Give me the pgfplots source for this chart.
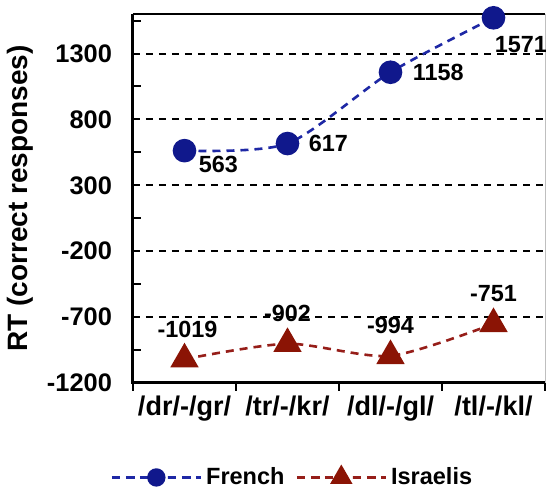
\documentclass[border=0pt]{standalone}
\usepackage{fontspec}
\setmainfont{Liberation Sans}
\usepackage{pgfplots}
\pgfplotsset{compat=1.18}

\definecolor{frline}{RGB}{30,40,165}
\definecolor{frmark}{RGB}{16,24,140}
\definecolor{isline}{RGB}{150,30,25}
\definecolor{ismark}{RGB}{139,20,5}

\newcommand{\fs}[1]{\bfseries\fontsize{#1}{#1}\selectfont}

\begin{document}
\begin{tikzpicture}
\begin{axis}[
    scale only axis, width=206pt, height=184.5pt,
    clip=false,
    xmin=0.5, xmax=4.5, ymin=-1200, ymax=1600,
    axis line style={draw=none},
    xtick={1,2,3,4},
    xticklabels={/dr/-/gr/,/tr/-/kr/,/dl/-/gl/,/tl/-/kl/},
    minor xtick={0.5,1.5,2.5,3.5,4.5},
    ytick={-1200,-700,...,1300},
    minor ytick={-950,-450,50,550,1050,1550},
    xtick pos=bottom, ytick pos=left,
    xtick align=outside, ytick align=inside,
    major tick length=0pt, minor tick length=4pt,
    minor tick style={black, line width=1pt},
    ymajorgrids,
    major grid style={black, line width=1pt, dash pattern=on 3.5pt off 3pt},
    /pgf/number format/assume math mode=true,
    /pgf/number format/1000 sep={},
    yticklabel style={font=\fs{12.7}, xshift=-7pt},
    xticklabel style={font=\fs{13.5}, yshift=-3pt},
    ylabel={RT (correct responses)},
    ylabel style={font=\fs{14}, at={(axis description cs:-0.274,0.5)}, anchor=center},
    legend style={draw=none, fill=none, font=\fs{11.75},
        at={(axis description cs:-0.07,-0.256)}, anchor=west,
        /tikz/every even column/.append style={column sep=3.5pt}},
    legend columns=2,
    legend image code/.code={\draw[mark repeat=2, mark phase=2, #1]
        plot coordinates {(0pt,0pt) (22.25pt,0pt) (44.5pt,0pt)};},
    legend image post style={/tikz/every mark/.append style={scale=0.75}},
]
\draw[line width=1pt] (rel axis cs:0,1) -- (rel axis cs:1,1);
\draw[gray!50, line width=0.5pt] (rel axis cs:1,0) -- (rel axis cs:1,1);
\draw[line width=1.5pt] (rel axis cs:0,1) -- (rel axis cs:0,0) -- (rel axis cs:1,0);

\addplot[frline, line width=1.3pt, dash pattern=on 4pt off 3pt, smooth, tension=0.45,
    mark=*, mark size=5.25pt, mark options={solid, draw=frmark, fill=frmark}]
    coordinates {(1,563) (2,617) (3,1158) (4,1571)};
\addlegendentry{French}

\addplot[isline, line width=1.3pt, dash pattern=on 4pt off 3pt, smooth, tension=0.45,
    mark=triangle*, mark size=6.9pt, mark options={solid, draw=ismark, fill=ismark}]
    coordinates {(1,-1019) (2,-902) (3,-994) (4,-751)};
\addlegendentry{Israelis}

\begin{scope}[every node/.style={font=\fs{11.7}, inner sep=0pt}]
\node[anchor=west, xshift=7pt, yshift=-7pt] at (axis cs:1,563) {563};
\node[anchor=west, xshift=10.5pt] at (axis cs:2,617) {617};
\node[anchor=west, xshift=11pt] at (axis cs:3,1158) {1158};
\node[anchor=west, xshift=0.5pt, yshift=-13.5pt] at (axis cs:4,1571) {1571};
\node[xshift=1.5pt, yshift=15pt] at (axis cs:1,-1019) {-1019};
\node[yshift=15pt] at (axis cs:2,-902) {-902};
\node[yshift=15pt] at (axis cs:3,-994) {-994};
\node[yshift=15pt] at (axis cs:4,-751) {-751};
\end{scope}
\end{axis}
\pgfresetboundingbox
\useasboundingbox ([xshift=-66.5pt,yshift=-53.5pt]current axis.south west)
    rectangle ([xshift=0.5pt,yshift=7pt]current axis.north east);
\end{tikzpicture}
\end{document}
